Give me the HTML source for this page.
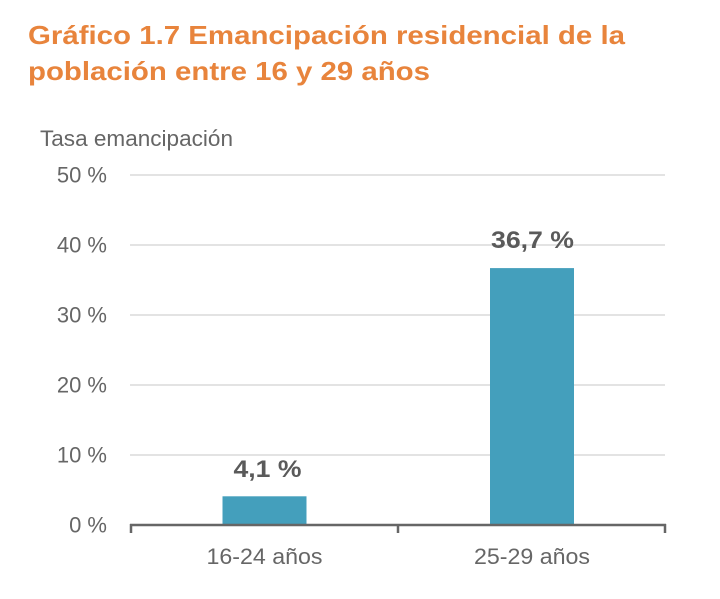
<!DOCTYPE html>
<html>
<head>
<meta charset="utf-8">
<style>
  html, body { margin: 0; padding: 0; background: #ffffff; }
  svg { display: block; }
  text { font-family: "Liberation Sans", "DejaVu Sans", sans-serif; }
</style>
</head>
<body>
<svg width="720" height="599" viewBox="0 0 720 599" xmlns="http://www.w3.org/2000/svg">
  <rect x="0" y="0" width="720" height="599" fill="#ffffff"/>
  <!-- Title -->
  <text x="28" y="44" font-size="26" font-weight="bold" fill="#E8843C" textLength="597" lengthAdjust="spacingAndGlyphs">Gráfico 1.7 Emancipación residencial de la</text>
  <text x="28" y="80" font-size="26" font-weight="bold" fill="#E8843C" textLength="402" lengthAdjust="spacingAndGlyphs">población entre 16 y 29 años</text>

  <!-- Axis title -->
  <text x="40" y="146" font-size="22" fill="#666666" textLength="193" lengthAdjust="spacingAndGlyphs">Tasa emancipación</text>

  <!-- Gridlines -->
  <g stroke="#E3E3E3" stroke-width="2">
    <line x1="130" y1="175" x2="665" y2="175"/>
    <line x1="130" y1="245" x2="665" y2="245"/>
    <line x1="130" y1="315" x2="665" y2="315"/>
    <line x1="130" y1="385" x2="665" y2="385"/>
    <line x1="130" y1="455" x2="665" y2="455"/>
  </g>

  <!-- Y tick labels -->
  <g font-size="22" fill="#666666" text-anchor="end">
    <text x="107" y="182.5">50 %</text>
    <text x="107" y="252.5">40 %</text>
    <text x="107" y="322.5">30 %</text>
    <text x="107" y="392.5">20 %</text>
    <text x="107" y="462.5">10 %</text>
    <text x="107" y="532.5">0 %</text>
  </g>

  <!-- Bars -->
  <rect x="222.5" y="496.3" width="84" height="28.7" fill="#449FBC"/>
  <rect x="490" y="268.1" width="84" height="256.9" fill="#449FBC"/>

  <!-- Axis -->
  <g stroke="#666666" stroke-width="2.5">
    <line x1="130" y1="525" x2="666" y2="525"/>
    <line x1="131" y1="524" x2="131" y2="533"/>
    <line x1="398" y1="524" x2="398" y2="533"/>
    <line x1="665" y1="524" x2="665" y2="533"/>
  </g>

  <!-- Value labels -->
  <g font-size="24" font-weight="bold" fill="#5A5A5A" text-anchor="middle">
    <text x="267.5" y="477" textLength="68" lengthAdjust="spacingAndGlyphs">4,1 %</text>
    <text x="532.5" y="248" textLength="83" lengthAdjust="spacingAndGlyphs">36,7 %</text>
  </g>

  <!-- X labels -->
  <g font-size="22" fill="#666666" text-anchor="middle">
    <text x="264.5" y="564" textLength="116" lengthAdjust="spacingAndGlyphs">16-24 años</text>
    <text x="532" y="564" textLength="116" lengthAdjust="spacingAndGlyphs">25-29 años</text>
  </g>
</svg>
</body>
</html>
